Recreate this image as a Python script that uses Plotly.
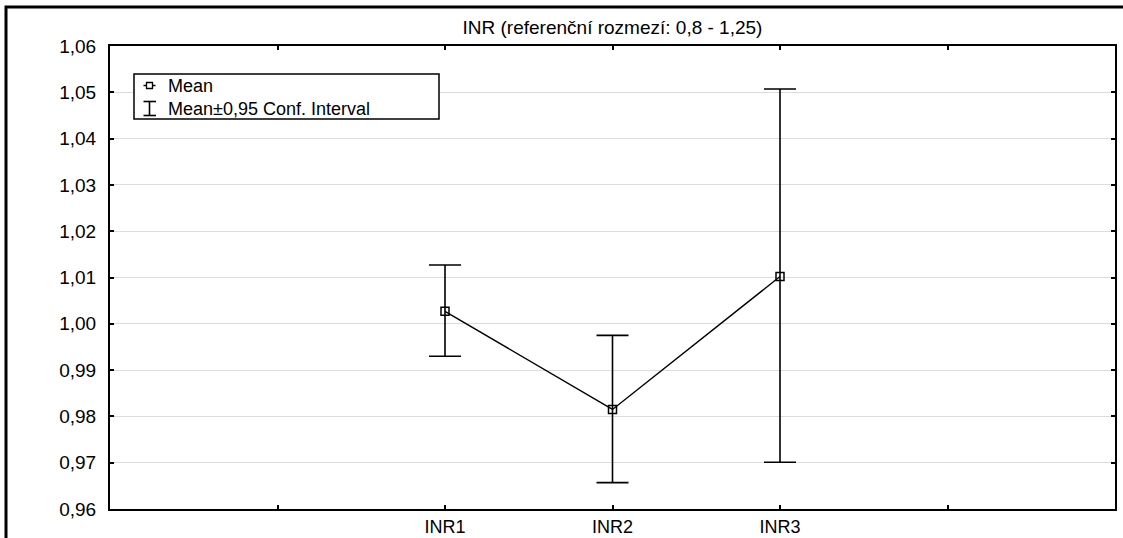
import plotly.graph_objects as go

# ---- data ----
categories = ["INR1", "INR2", "INR3"]
mean_values = [1.0027, 0.9815, 1.0102]
ci_upper = [1.0127, 0.9975, 1.0507]
ci_lower = [0.9930, 0.9657, 0.9701]
axis_categories = [" ", "INR1", "INR2", "INR3", "  "]
y_ticks = [0.96, 0.97, 0.98, 0.99, 1.00, 1.01, 1.02, 1.03, 1.04, 1.05, 1.06]
y_ticktext = [f"{v:.2f}".replace(".", ",") for v in y_ticks]
title_text = "INR (referenční rozmezí: 0,8 - 1,25)"
legend_labels = ["Mean", "Mean±0,95 Conf. Interval"]

err_plus = [u - m for u, m in zip(ci_upper, mean_values)]
err_minus = [m - l for m, l in zip(mean_values, ci_lower)]

FONT = "Liberation Sans, Arial, sans-serif"
FS = 19
LEG_FS = 18

fig = go.Figure()

# error bars (CI) - drawn with invisible markers
fig.add_trace(go.Scatter(
    x=categories, y=mean_values, mode="markers",
    marker=dict(size=1, color="rgba(0,0,0,0)"),
    error_y=dict(type="data", symmetric=False, array=err_plus, arrayminus=err_minus,
                 color="black", thickness=1.6, width=16),
    showlegend=False, hoverinfo="skip",
))

# mean line with square markers
fig.add_trace(go.Scatter(
    x=categories, y=mean_values, mode="lines+markers", name=legend_labels[0],
    line=dict(color="black", width=1.4),
    marker=dict(symbol="square-open", size=8, color="black", line=dict(width=1.5, color="black")),
    showlegend=False,
))

# plot area in pixels: left 110, right 1115, top 46, bottom 509
W, H = 1123, 538
L, R, T, B = 110, 1115, 46, 509
pw, ph = R - L, B - T

def px_x(x):
    return (x - L) / pw

def px_y(y):
    return (B - y) / ph

def seg(x0, y0, x1, y1, w=1.5):
    return dict(type="line", xref="paper", yref="paper",
                x0=px_x(x0), y0=px_y(y0), x1=px_x(x1), y1=px_y(y1),
                line=dict(color="black", width=w))

LEG_TOP, LEG_BOT = 74, 119
row1, row2 = 85.5, 108.5

shapes = [
    # outer frame (left + top)
    dict(type="path", xref="paper", yref="paper",
         path=f"M {px_x(6)} {px_y(545)} L {px_x(6)} {px_y(7)} L {px_x(1130)} {px_y(7)}",
         line=dict(color="black", width=3)),
    # legend box
    dict(type="rect", xref="paper", yref="paper",
         x0=px_x(134), y0=px_y(LEG_BOT), x1=px_x(439), y1=px_y(LEG_TOP),
         line=dict(color="black", width=1.5), fillcolor="white"),
    # legend symbol: mean (line + square)
    seg(143.5, row1, 155.5, row1, 1.5),
    dict(type="rect", xref="paper", yref="paper",
         x0=px_x(146.5), y0=px_y(row1 + 3), x1=px_x(152.5), y1=px_y(row1 - 3),
         line=dict(color="black", width=1.3), fillcolor="white"),
    # legend symbol: CI (I-beam)
    seg(149.5, row2 - 7, 149.5, row2 + 7, 1.6),
    seg(143.5, row2 - 7, 156, row2 - 7, 1.6),
    seg(143.5, row2 + 7, 156, row2 + 7, 1.6),
]
for s in shapes:
    s["layer"] = "above"

annotations = [
    dict(text="<br>".join(legend_labels), xref="paper", yref="paper",
         x=px_x(166), y=px_y((row1 + row2) / 2),
         xanchor="left", yanchor="middle", align="left", showarrow=False,
         font=dict(family=FONT, size=LEG_FS, color="black")),
]

fig.update_layout(
    width=W, height=H,
    margin=dict(l=L, r=W - R, t=T, b=H - B, pad=0),
    paper_bgcolor="white", plot_bgcolor="white",
    font=dict(family=FONT, size=FS, color="black"),
    title=dict(text=title_text, x=0.5, xanchor="center", xref="paper",
               y=1 - 27 / H, yanchor="middle", yref="container",
               font=dict(family=FONT, size=FS, color="black")),
    showlegend=False,
    xaxis=dict(
        type="category", categoryorder="array", categoryarray=axis_categories,
        range=[-1, len(axis_categories)],
        showgrid=False, zeroline=False, automargin=False,
        showline=True, linecolor="black", linewidth=2, mirror="ticks",
        ticks="inside", ticklen=4, tickwidth=2, tickcolor="black",
        tickfont=dict(family=FONT, size=18, color="black"),
        ticklabelstandoff=0,
    ),
    yaxis=dict(
        range=[0.96, 1.06], tickvals=y_ticks, ticktext=y_ticktext,
        showgrid=True, gridcolor="#dcdcdc", gridwidth=1, zeroline=False, automargin=False,
        showline=True, linecolor="black", linewidth=2, mirror="ticks",
        ticks="inside", ticklen=4, tickwidth=2, tickcolor="black",
        tickfont=dict(family=FONT, size=FS, color="black"),
        ticklabelstandoff=8,
    ),
    shapes=shapes,
    annotations=annotations,
)

fig.write_html("out.html")
